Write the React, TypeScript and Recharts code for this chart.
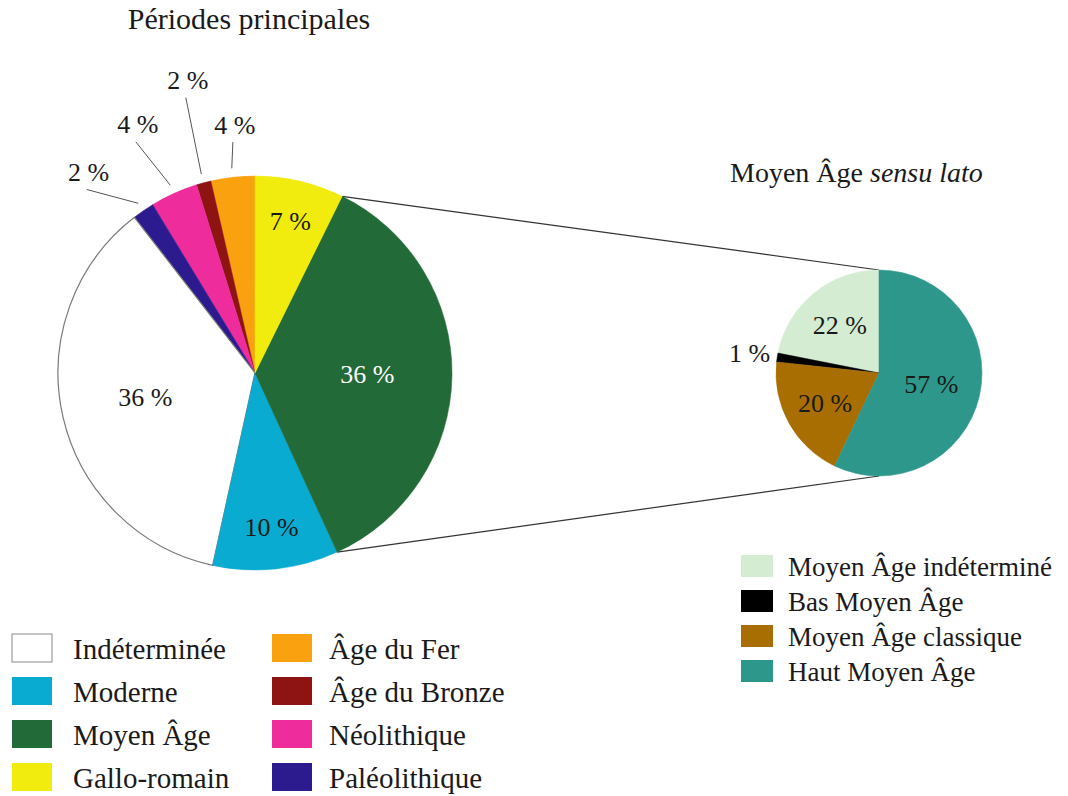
import React from 'react';
import { PieChart, Pie, Cell, Customized } from 'recharts';

// Périodes principales (drawn counter-clockwise from 12 o'clock)
const mainNames = ['Âge du Fer', 'Âge du Bronze', 'Néolithique', 'Paléolithique', 'Indéterminée', 'Moderne', 'Moyen Âge', 'Gallo-romain'];
const mainValues = [3.6, 1.2, 3.9, 1.8, 36.1, 10.3, 35.9, 7.3];
const mainLabels = ['4 %', '2 %', '4 %', '2 %', '36 %', '10 %', '36 %', '7 %'];
const mainColors = ['#F9A10E', '#8E1414', '#EE2C9C', '#2C1B8E', '#FFFFFF', '#0AABD0', '#226B39', '#F1EC0E'];

const legendLeft = ['Indéterminée', 'Moderne', 'Moyen Âge', 'Gallo-romain'];
const legendRight = ['Âge du Fer', 'Âge du Bronze', 'Néolithique', 'Paléolithique'];

// Moyen Âge sensu lato
const subNames = ['Moyen Âge indéterminé', 'Bas Moyen Âge', 'Moyen Âge classique', 'Haut Moyen Âge'];
const subValues = [21.9, 1.4, 19.6, 57.1];
const subLabels = ['22 %', '1 %', '20 %', '57 %'];
const subColors = ['#D4ECD2', '#000000', '#A86E02', '#2E978B'];

const ZOOM_INDEX = 6; // 'Moyen Âge' is detailed in the second pie

const W = 1068;
const H = 796;
const MAIN = { cx: 255, cy: 373, r: 197 };
const SUB = { cx: 879, cy: 373, r: 103 };
const FONT = '"Liberation Serif", "Times New Roman", serif';
const INK = '#1a1a1a';

// leader lines for the thin slices: end radius + angle shift
const callouts: Record<number, { r: number; d: number }> = {
  0: { r: 232, d: -1 },
  1: { r: 284, d: -1 },
  2: { r: 260, d: 3 },
  3: { r: 249, d: 8 },
};

const RAD = Math.PI / 180;
const polar = (cx: number, cy: number, r: number, deg: number) => ({
  x: cx + r * Math.cos(deg * RAD),
  y: cy - r * Math.sin(deg * RAD),
});

const mainData = mainNames.map((name, i) => ({ name, value: mainValues[i] }));
const subData = subNames.map((name, i) => ({ name, value: subValues[i] }));

const colorOf = (name: string) => mainColors[mainNames.indexOf(name)];

const renderMainLabel = (p: any) => {
  const { cx, cy, outerRadius, midAngle, index, percent } = p;
  const text = mainLabels[index];
  const c = callouts[index];
  if (c) {
    const a = polar(cx, cy, outerRadius + 9, midAngle);
    const b = polar(cx, cy, c.r, midAngle + c.d);
    return (
      <g key={`ml-${index}`}>
        <line x1={a.x} y1={a.y} x2={b.x} y2={b.y} stroke="#555" strokeWidth={1} />
        <text x={b.x + 2} y={b.y - 17} textAnchor="middle" dominantBaseline="central"
          fontFamily={FONT} fontSize={26} fill={INK}>{text}</text>
      </g>
    );
  }
  const k = percent > 0.2 ? 0.57 : 0.79;
  const t = polar(cx, cy, outerRadius * k, midAngle);
  return (
    <text key={`ml-${index}`} x={t.x} y={t.y} textAnchor="middle" dominantBaseline="central"
      fontFamily={FONT} fontSize={26} fill={index === ZOOM_INDEX ? '#ffffff' : INK}>{text}</text>
  );
};

const renderSubLabel = (p: any) => {
  const { cx, cy, outerRadius, midAngle, index, percent } = p;
  const k = percent < 0.05 ? 1.27 : percent > 0.5 ? 0.52 : 0.6;
  const t = polar(cx, cy, outerRadius * k, midAngle);
  return (
    <text key={`sl-${index}`} x={t.x} y={t.y} textAnchor="middle" dominantBaseline="central"
      fontFamily={FONT} fontSize={26} fill={INK}>{subLabels[index]}</text>
  );
};

const Decorations = () => {
  const total = mainValues.reduce((s, v) => s + v, 0);
  const before = mainValues.slice(0, ZOOM_INDEX).reduce((s, v) => s + v, 0);
  const a0 = 90 + (360 * before) / total;
  const a1 = a0 + (360 * mainValues[ZOOM_INDEX]) / total;
  const low = polar(MAIN.cx, MAIN.cy, MAIN.r, a0);
  const high = polar(MAIN.cx, MAIN.cy, MAIN.r, a1);

  return (
    <g>
      <line x1={high.x} y1={high.y} x2={SUB.cx} y2={SUB.cy - SUB.r} stroke="#333" strokeWidth={1.2} />
      <line x1={low.x} y1={low.y} x2={SUB.cx} y2={SUB.cy + SUB.r} stroke="#333" strokeWidth={1.2} />

      <text x={249} y={29} textAnchor="middle" fontFamily={FONT} fontSize={30} fill={INK}>
        Périodes principales
      </text>
      <text x={730} y={182} fontFamily={FONT} fontSize={28} fill={INK}>
        Moyen Âge <tspan fontStyle="italic">sensu lato</tspan>
      </text>

      {[legendLeft, legendRight].map((col, ci) =>
        col.map((name, ri) => {
          const x = ci === 0 ? 12 : 272;
          const y = 634 + ri * 43;
          const isWhite = name === 'Indéterminée';
          return (
            <g key={name}>
              <rect x={x} y={y} width={40} height={28} fill={colorOf(name)}
                stroke={isWhite ? '#8a8a8a' : 'none'} strokeWidth={1} />
              <text x={ci === 0 ? 73 : 329} y={y + 25} fontFamily={FONT} fontSize={29} fill={INK}>
                {name}
              </text>
            </g>
          );
        })
      )}

      {subNames.map((name, i) => {
        const y = 555 + i * 35;
        return (
          <g key={name}>
            <rect x={741} y={y} width={32} height={22} fill={subColors[i]} />
            <text x={788} y={y + 21} fontFamily={FONT} fontSize={27} fill={INK}>{name}</text>
          </g>
        );
      })}
    </g>
  );
};

export default function App() {
  return (
    <div style={{ position: 'absolute', left: 0, top: 0, width: W, height: H, background: '#fff' }}>
      <PieChart width={W} height={H} margin={{ top: 0, right: 0, bottom: 0, left: 0 }}>
        <Customized component={Decorations} />
        <Pie
          data={mainData}
          dataKey="value"
          nameKey="name"
          cx={MAIN.cx}
          cy={MAIN.cy}
          outerRadius={MAIN.r}
          startAngle={90}
          endAngle={450}
          label={renderMainLabel}
          labelLine={false}
          isAnimationActive={false}
        >
          {mainData.map((d, i) => (
            <Cell key={d.name} fill={mainColors[i]}
              stroke={d.name === 'Indéterminée' ? '#7a7a7a' : mainColors[i]}
              strokeWidth={d.name === 'Indéterminée' ? 1.2 : 0.5} />
          ))}
        </Pie>
        <Pie
          data={subData}
          dataKey="value"
          nameKey="name"
          cx={SUB.cx}
          cy={SUB.cy}
          outerRadius={SUB.r}
          startAngle={90}
          endAngle={450}
          label={renderSubLabel}
          labelLine={false}
          isAnimationActive={false}
        >
          {subData.map((d, i) => (
            <Cell key={d.name} fill={subColors[i]} stroke={subColors[i]} strokeWidth={0.5} />
          ))}
        </Pie>
      </PieChart>
    </div>
  );
}
